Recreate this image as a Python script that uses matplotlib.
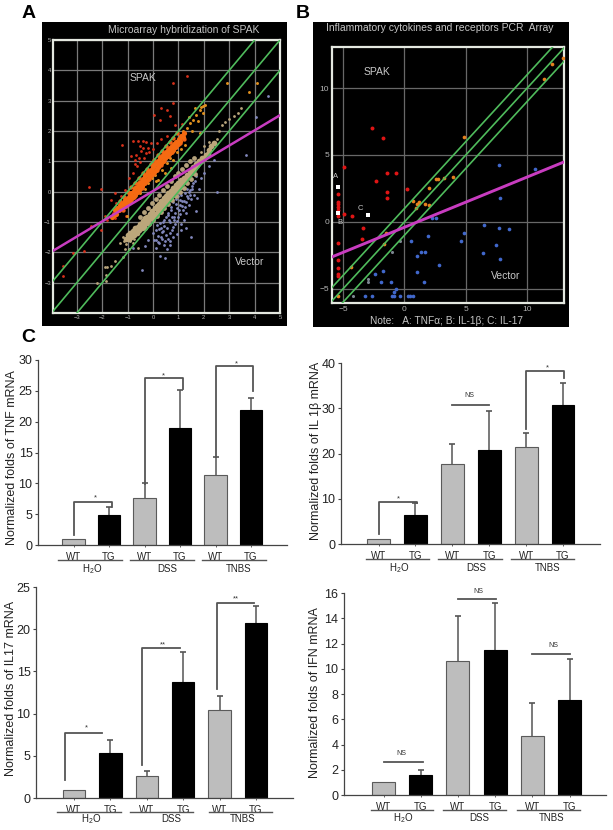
import matplotlib
matplotlib.use("Agg")
import matplotlib.pyplot as plt
from matplotlib.patches import Rectangle

plt.rcParams['font.family'] = ['Liberation Sans', 'DejaVu Sans']
plt.rcParams['mathtext.default'] = 'regular'

W, H = 613, 830

# ---------- Panel A data ----------
a_band_x = [-1.62,-1.55,-1.5,-1.45,-1.4,-1.35,-1.3,-1.25,-1.2,-1.15,-1.1,-1.05,-1.0,-0.95,-0.9,-0.88,-0.85,-0.8,-0.75,-0.72,-0.7,-0.65,-0.6,-0.57,-0.55,-0.5,-0.47,-0.42,-0.4,-0.35,-0.32,-0.28,-0.25,-0.2,-0.18,-0.12,-0.1,-0.05,-0.02,0.03,0.05,0.1,0.12,0.18,0.2,0.25,0.28,0.33,0.36,0.4,0.43,0.48,0.5,0.55,0.58,0.62,0.66,0.7,0.74,0.78,0.82,0.88,0.92,0.98,1.02,1.08,1.12,1.18,1.22]
a_band_y = [-0.82,-0.78,-0.62,-0.72,-0.55,-0.62,-0.45,-0.55,-0.38,-0.47,-0.28,-0.4,-0.2,-0.32,-0.12,-0.25,-0.05,-0.18,0.02,-0.12,0.12,-0.02,0.18,0.05,0.28,0.12,0.33,0.2,0.42,0.28,0.5,0.35,0.58,0.42,0.65,0.5,0.72,0.58,0.8,0.65,0.88,0.72,0.95,0.8,1.02,0.88,1.1,0.95,1.18,1.02,1.25,1.1,1.32,1.18,1.38,1.25,1.45,1.32,1.52,1.38,1.58,1.48,1.65,1.58,1.75,1.68,1.85,1.8,1.95]
a_band_edge_x = [-1.3,-1.15,-1.0,-0.85,-0.7,-0.55,-0.4,-0.25,-0.1,0.05,0.2,0.35,0.5,0.65,0.8,0.95,-1.2,-1.05,-0.9,-0.75,-0.6,-0.45,-0.3,-0.15,0.0,0.15,0.3,0.45,0.6,0.75,0.9,1.05,1.2]
a_band_edge_y = [-0.32,-0.16,0.0,0.14,0.3,0.45,0.6,0.75,0.9,1.05,1.2,1.35,1.5,1.65,1.78,1.92,-0.62,-0.46,-0.32,-0.16,-0.02,0.13,0.28,0.42,0.58,0.72,0.88,1.02,1.18,1.32,1.47,1.6,1.72]
a_red_x = [1.34,0.78,0.79,0.3,0.53,0.04,0.66,0.26,0.86,1.14,-1.21,-0.79,-0.59,-0.39,-0.26,-0.53,-0.86,-0.66,-0.72,-0.39,-0.2,-0.46,-0.26,-2.54,-2.04,-1.51,-1.25,-1.64,-1.12,-1.45,-3.16,-2.7,-3.55,-3.55,-2.43,-2.1,-2.04,-1.91,-1.82,-1.58,-1.51,-1.05,-0.95,-0.8,-0.62,-0.5,-0.35,-0.15,0.0,0.15,0.3,0.55,-0.7,-0.55,-0.1]
a_red_y = [3.82,3.58,2.92,2.76,2.7,2.54,2.48,2.37,2.2,2.24,1.55,1.66,1.66,1.68,1.64,1.49,1.16,1.22,1.05,1.44,1.44,1.33,1.27,0.14,0.09,-0.04,-0.15,-0.26,0.07,-0.37,-2.02,-1.97,-2.46,-2.77,-1.14,-1.03,-1.25,-0.81,-0.92,-0.7,-0.87,-0.81,0.45,0.62,0.85,0.98,1.12,1.3,1.42,1.6,1.75,1.85,0.9,1.1,1.6]
a_amber_x = [1.97,1.84,1.71,1.97,1.58,1.45,1.78,1.55,1.84,1.32,1.18,1.05,0.86,0.66,0.72,0.46,0.2,-0.2,0.07,-0.53,-0.86,-1.01,2.93,3.79,4.08,1.25,1.1,0.95,0.8,0.55,0.35,0.1,-0.05,-0.3,-0.45,-0.7,1.4,1.65,1.9,2.05]
a_amber_y = [2.84,2.7,2.54,2.59,2.37,2.26,2.32,1.99,1.93,2.1,1.99,1.71,1.49,1.11,0.78,0.62,0.4,0.29,0.56,-0.04,-0.26,-0.81,3.58,3.27,3.58,1.55,1.4,1.3,1.05,0.95,0.7,0.35,0.45,0.1,0.15,-0.15,2.45,2.75,2.78,2.85]
a_tan_band_x = [-1.08,-1.0,-0.95,-0.9,-0.85,-0.8,-0.75,-0.7,-0.65,-0.6,-0.55,-0.5,-0.45,-0.4,-0.35,-0.32,-0.27,-0.22,-0.18,-0.12,-0.08,-0.03,0.02,0.06,0.1,0.15,0.2,0.24,0.28,0.33,0.38,0.42,0.47,0.5,0.55,0.6,0.65,0.7,0.75,0.8,0.85,0.9,0.95,1.0,1.05,1.1,1.15,1.2,1.27,1.32,1.38,1.44,1.5,1.56,1.62,1.68,1.75,1.8,1.88,1.94,2.0,2.08,2.15,2.22,2.3,2.4]
a_tan_band_y = [-1.55,-1.42,-1.55,-1.35,-1.48,-1.3,-1.42,-1.2,-1.35,-1.15,-1.28,-1.05,-1.2,-0.98,-1.12,-0.88,-1.02,-0.82,-0.95,-0.72,-0.88,-0.65,-0.8,-0.55,-0.72,-0.48,-0.62,-0.4,-0.55,-0.3,-0.45,-0.22,-0.36,-0.14,-0.28,-0.06,-0.2,0.03,-0.12,0.12,-0.02,0.22,0.08,0.3,0.17,0.38,0.28,0.46,0.38,0.56,0.5,0.68,0.62,0.8,0.75,0.92,0.88,1.02,1.0,1.12,1.1,1.22,1.25,1.38,1.5,1.62]
a_tan_edge_x = [-0.5,-0.35,-0.2,-0.05,0.1,0.25,0.4,0.55,0.7,0.85,1.0,1.15,1.3,1.45,1.6,-0.3,-0.15,0.0,0.15,0.3,0.45,0.6,0.75,0.9,1.05,1.2,1.35,1.5,1.65]
a_tan_edge_y = [-0.85,-0.68,-0.55,-0.38,-0.25,-0.1,0.05,0.2,0.35,0.5,0.62,0.75,0.88,1.0,1.12,-1.2,-1.08,-0.95,-0.8,-0.68,-0.55,-0.42,-0.28,-0.15,-0.02,0.12,0.28,0.42,0.58]
a_tan_x = [2.6,2.7,2.85,3.0,3.2,3.35,3.45,-1.2,-1.1,-1.3,-1.2,-1.5,-1.65,-1.8,-1.9,-1.85,-2.2,-1.85,-0.8,-0.6,-0.95,2.5,2.2,2.0,1.9,-1.05,-0.9,-0.75,-1.15]
a_tan_y = [2.0,2.2,2.3,2.4,2.5,2.6,2.75,-1.5,-1.9,-1.7,-2.15,-2.3,-2.45,-2.5,-2.47,-2.75,-3.0,-2.95,-1.7,-1.85,-1.9,1.75,1.65,1.5,1.3,-1.72,-1.62,-1.55,-1.62]
a_blue_x = [0.0,0.05,0.1,0.1,0.15,0.18,0.2,0.25,0.3,0.32,0.38,0.4,0.42,0.26,0.49,-0.42,0.5,0.55,0.58,0.6,0.65,0.68,0.7,0.75,0.78,0.8,0.85,0.88,0.9,0.95,0.98,1.0,1.05,1.08,1.1,1.15,1.18,1.2,1.25,1.28,1.3,1.35,1.4,1.45,1.5,1.55,1.6,1.65,1.71,1.8,1.9,2.0,2.2,2.4,2.5,3.66,4.54,4.05,-0.8,-0.3,-0.2,0.65,0.95,1.3,1.5,0.8,1.1,0.55,0.35,0.45,0.52,0.62,0.72,0.82,0.92,1.02,1.12,1.22,1.32,1.42,1.52,0.22,0.34,0.44,0.74,0.84,0.96,1.06,1.16,1.26,1.36,1.46,0.12,0.28,0.48,0.58,0.68,1.58,1.68,1.75]
a_blue_y = [-1.35,-1.6,-1.25,-1.85,-1.1,-1.45,-1.65,-1.7,-1.2,-1.5,-1.0,-1.3,-1.75,-2.13,-2.2,-2.59,-0.85,-1.2,-1.55,-0.7,-1.0,-1.35,-0.5,-0.85,-1.15,-0.35,-0.7,-1.05,-0.25,-0.55,-0.85,-0.15,-0.45,-0.75,-1.25,-0.3,-0.6,-0.95,-0.05,-0.35,-0.7,-0.15,-0.45,0.05,-0.25,0.2,-0.1,0.35,-0.65,0.1,0.45,0.6,0.85,1.05,-0.02,1.2,3.14,2.45,-1.85,-1.8,-1.6,-1.75,-1.4,-1.2,-1.49,-1.5,-1.05,-1.9,-1.55,-1.12,-1.42,-0.92,-0.62,-0.95,-0.42,-0.62,-0.12,-0.32,0.1,-0.02,0.08,-1.22,-1.32,-0.92,-1.28,-0.82,-0.98,-0.28,-0.48,-0.52,-0.22,-0.12,-1.58,-1.02,-1.62,-0.78,-1.62,0.28,0.52,-0.22]
a_green_x = [-5, 6]
a_green_upper_y = [-4, 7]
a_green_mid_y = [-5, 6]
a_green_lower_y = [-6, 5]
a_magenta_x = [-3.94, 5]
a_magenta_y = [-1.95, 2.52]

# ---------- Panel B data ----------
b_red_x = [-2.62,-1.72,-4.9,-1.44,-0.71,-2.34,-1.44,-1.44,0.22,-5.4,-5.4,-5.4,-5.4,-5.4,-5.4,-4.93,-4.3,-3.38,-3.49,-5.4,-5.4,-5.4,-5.4,-5.4]
b_red_y = [6.98,6.26,4.09,3.67,3.67,3.04,2.24,1.77,2.44,2.09,1.52,1.32,1.12,0.92,0.42,0.57,0.45,-0.45,-1.3,-1.55,-2.82,-3.42,-3.92,-4.06]
b_white_x = [-5.42,-5.42,-2.94]
b_white_y = [2.64,0.7,0.5]
b_orange_x = [4.82,2.56,2.72,3.19,3.95,1.99,0.68,1.0,1.2,1.09,0.93,1.69,2.0,-1.5,-1.66,-4.36,-5.4,12.04,11.36,12.9]
b_orange_y = [6.38,3.19,3.19,3.29,3.37,2.54,1.55,1.37,1.5,1.32,1.07,1.37,1.25,-0.82,-1.62,-3.37,-5.5,11.77,10.67,12.27]
b_blue_x = [7.68,10.65,7.77,2.26,2.59,6.49,7.68,8.56,4.82,1.91,0.54,4.58,7.47,1.39,1.69,1.01,6.38,7.79,2.81,1.01,1.61,-1.77,-2.37,-1.91,-1.12,-0.68,-0.84,-3.22,-2.62,-1.04,-0.87,-0.38,0.27,0.44,0.68]
b_blue_y = [4.26,3.97,1.77,0.27,0.27,-0.22,-0.45,-0.52,-0.82,-1.05,-1.42,-1.42,-1.72,-2.22,-2.22,-2.52,-2.34,-2.74,-3.24,-3.72,-4.51,-3.64,-3.92,-4.51,-4.51,-5.04,-5.24,-5.51,-5.51,-5.51,-5.51,-5.51,-5.51,-5.51,-5.51]
b_gray_x = [-2.94,-2.94,-4.17,-1.04,-0.35]
b_gray_y = [-4.24,-4.49,-5.51,-2.24,-1.42]
b_green_x = [-8, 15]
b_green_upper_y = [-7, 16]
b_green_mid_y = [-8, 15]
b_green_lower_y = [-9, 14]
b_magenta_x = [-5.94, 13]
b_magenta_y = [-2.63, 4.48]

# ---------- Panel C data ----------
bar_labels = ['WT', 'TG', 'WT', 'TG', 'WT', 'TG']
group_labels = ['H$_2$O', 'DSS', 'TNBS']

tnf_vals = [1, 4.9, 7.7, 18.9, 11.3, 21.9]
tnf_tops = [1, 6.2, 10, 25.2, 14.2, 23.9]
il1_vals = [1, 6.4, 17.6, 20.8, 21.4, 30.8]
il1_tops = [1, 9, 22.2, 29.3, 24.6, 35.5]
il17_vals = [1, 5.3, 2.6, 13.7, 10.4, 20.7]
il17_tops = [1, 6.9, 3.2, 17.3, 12.1, 22.8]
ifn_vals = [1, 1.55, 10.6, 11.5, 4.65, 7.55]
ifn_tops = [1, 2, 14.2, 15.2, 7.3, 10.75]

fig = plt.figure(figsize=(W / 100, H / 100), dpi=100, facecolor='white')


def px_axes(l, t, r, b, **kw):
    return fig.add_axes([l / W, 1 - b / H, (r - l) / W, (b - t) / H], **kw)


def ftext(x, y, s, **kw):
    kw.setdefault('ha', 'center')
    kw.setdefault('va', 'center')
    return fig.text(x / W, 1 - y / H, s, **kw)


def black_box(l, t, r, b):
    fig.add_artist(Rectangle((l / W, 1 - b / H), (r - l) / W, (b - t) / H,
                             transform=fig.transFigure, facecolor='black',
                             edgecolor='none', zorder=-5))


def scatter_frame(rect, xlim, ylim, xt, yt, tsize, pad, gridc):
    ax = px_axes(*rect)
    ax.set_facecolor('black')
    ax.set_xlim(*xlim)
    ax.set_ylim(*ylim)
    ax.set_xticks(xt)
    ax.set_yticks(yt)
    ax.grid(True, color=gridc, lw=0.9)
    ax.set_axisbelow(True)
    ax.tick_params(length=0, labelsize=tsize, colors='#b5b5b5', pad=pad)
    for s in ax.spines.values():
        s.set_color('#e4e8e0')
        s.set_linewidth(1.6)
    return ax


GREEN = '#4fbb5c'
MAGENTA = '#c83cc0'

# ---- Panel A ----
black_box(42, 22, 287, 326)
axA = scatter_frame((53, 40, 280, 313), (-3.94, 5), (-4, 5),
                    [-3, -2, -1, 0, 1, 2, 3, 4, 5], [-3, -2, -1, 0, 1, 2, 3, 4, 5], 4.2, 1.5, '#7a7a7a')
axA.scatter(a_blue_x, a_blue_y, s=4, color='#8288bd', lw=0, zorder=2)
axA.scatter(a_tan_x, a_tan_y, s=4, color='#b9a57c', lw=0, zorder=2)
axA.scatter(a_tan_edge_x, a_tan_edge_y, s=12, color='#b5a27c', lw=0, zorder=3)
axA.scatter(a_tan_band_x, a_tan_band_y, s=17, color='#bca77b', lw=0, zorder=3)
axA.scatter(a_red_x, a_red_y, s=4, color='#d8301a', lw=0, zorder=2)
axA.scatter(a_amber_x, a_amber_y, s=4.5, color='#e0901e', lw=0, zorder=3)
axA.scatter(a_band_edge_x, a_band_edge_y, s=10, color='#f0601a', lw=0, zorder=3)
axA.scatter(a_band_x, a_band_y, s=14, color='#f56a12', lw=0, zorder=3)
for yy in (a_green_upper_y, a_green_mid_y, a_green_lower_y):
    axA.plot(a_green_x, yy, color=GREEN, lw=1.2, zorder=4)
axA.plot(a_magenta_x, a_magenta_y, color=MAGENTA, lw=1.8, zorder=5)
ftext(184, 30, 'Microarray hybridization of SPAK', color='#c4c4c4', fontsize=7.5)
ftext(143, 78, 'SPAK', color='#c8c8c8', fontsize=7.5)
ftext(250, 262, 'Vector', color='#c8c8c8', fontsize=7.5)

# ---- Panel B ----
black_box(313, 22, 569, 327)
axB = scatter_frame((332, 47, 564, 303), (-5.9, 13), (-6.06, 13.07),
                    [-5, 0, 5, 10], [-5, 0, 5, 10], 6, 2, '#686868')
axB.scatter(b_gray_x, b_gray_y, s=5, color='#7c8590', lw=0, zorder=3)
axB.scatter(b_blue_x, b_blue_y, s=7, color='#4168cc', lw=0, zorder=3)
axB.scatter(b_red_x, b_red_y, s=8, color='#e01515', lw=0, zorder=3)
axB.scatter(b_orange_x, b_orange_y, s=7, color='#e6801e', lw=0, zorder=3)
axB.scatter(b_white_x, b_white_y, s=9, marker='s', color='white', lw=0, zorder=6)
for yy in (b_green_upper_y, b_green_mid_y, b_green_lower_y):
    axB.plot(b_green_x, yy, color=GREEN, lw=1.2, zorder=4)
axB.plot(b_magenta_x, b_magenta_y, color=MAGENTA, lw=2.1, zorder=5)
ftext(440, 28, 'Inflammatory cytokines and receptors PCR  Array', color='#c4c4c4', fontsize=7.5)
ftext(377, 72, 'SPAK', color='#c8c8c8', fontsize=7.5)
ftext(506, 276, 'Vector', color='#c8c8c8', fontsize=7.5)
ftext(446, 321, 'Note:   A: TNF\u03b1; B: IL-1\u03b2; C: IL-17', color='#c4c4c4', fontsize=7.3)
ftext(336, 177, 'A', color='#c8c8c8', fontsize=5.5)
ftext(340, 222, 'B', color='#c8c8c8', fontsize=5.5)
ftext(360, 208, 'C', color='#c8c8c8', fontsize=5.5)

# ---- Panel letters ----
ftext(29, 13, 'A', fontsize=14, fontweight='bold')
ftext(303, 13, 'B', fontsize=14, fontweight='bold')
ftext(28, 337, 'C', fontsize=14, fontweight='bold')


def bar_panel(rect, c0, sp, ymax, yticks, vals, tops, ylabel, ylab_xy,
              groups, group_text_x, line_dy, text_dy, brackets, ns_lines, stars):
    l, t, r, b = rect
    ax = px_axes(l, t, r, b)
    ax.patch.set_alpha(0)
    ax.set_xlim((l - c0) / sp, (r - c0) / sp)
    ax.set_ylim(0, ymax)
    xs = list(range(6))
    cols = ['#bdbdbd', 'black'] * 3
    edges = ['#5a5a5a', 'black'] * 3
    for i in xs:
        if tops[i] > vals[i]:
            eb = ax.errorbar(i, vals[i], yerr=[[0], [tops[i] - vals[i]]], color='#555555',
                             lw=1.1, capsize=2.2, capthick=1.2, zorder=1)
            eb.lines[1][0].set_visible(False)
    ax.bar(xs, vals, width=0.62, color=cols, edgecolor=edges, linewidth=0.8, zorder=2)
    ax.set_xticks(xs)
    ax.set_xticklabels(bar_labels, fontsize=7, color='#222222')
    ax.set_yticks(yticks)
    ax.tick_params(axis='y', labelsize=9, length=2.5, width=0.8, color='#444444',
                   labelcolor='#222222', pad=1.5)
    ax.tick_params(axis='x', length=1.5, width=0.6, color='#444444', pad=3.2)
    for s in ('top', 'right'):
        ax.spines[s].set_visible(False)
    for s in ('left', 'bottom'):
        ax.spines[s].set_color('#444444')
        ax.spines[s].set_linewidth(0.9)
    h = b - t
    tr = ax.get_xaxis_transform()
    for (x0, x1), tx, lab in zip(groups, group_text_x, group_labels):
        ax.plot([x0, x1], [-line_dy / h] * 2, transform=tr, color='#555555', lw=1.0,
                clip_on=False)
        ax.text(tx, -text_dy / h, lab, transform=tr, ha='center', va='center',
                fontsize=7, color='#222222', clip_on=False)
    for x0, x1, top, yl, yr in brackets:
        ax.plot([x0, x0, x1] + ([x1] if yr is not None else []),
                [yl, top, top] + ([yr] if yr is not None else []),
                color='#555555', lw=1.3, clip_on=False, zorder=3)
    for x0, x1, y in ns_lines:
        ax.plot([x0, x1], [y, y], color='#555555', lw=1.3, clip_on=False, zorder=3)
    for x, y, s in stars:
        ax.text(x, y, s, ha='center', va='center', clip_on=False, color='#333333',
                fontsize=5 if s == 'NS' else 5.5)
    ftext(ylab_xy[0], ylab_xy[1], ylabel, rotation=90, fontsize=9, color='#222222')
    return ax


bar_panel((38, 360, 287, 545), 73.5, 35.5, 30, [0, 5, 10, 15, 20, 25, 30], tnf_vals, tnf_tops,
          'Normalized folds of TNF mRNA', (12, 458),
          [(-0.45, 1.36), (1.59, 3.4), (3.63, 5.41)], [0.52, 2.63, 4.66], 15, 24,
          [(0, 1.08, 6.9, 1.7, 6.2), (2, 3.08, 27, 9.9, 25.3), (4, 5.07, 29, 14.2, 24.9)], [],
          [(0.61, 7.6, '*'), (2.53, 27.4, '*'), (4.6, 29.4, '*')])

bar_panel((341, 363, 600, 544), 378.5, 36.9, 40, [0, 10, 20, 30, 40], il1_vals, il1_tops,
          'Normalized folds of IL 1\u03b2 mRNA', (316, 451),
          [(-0.34, 1.38), (1.62, 3.34), (3.58, 5.3)], [0.56, 2.66, 4.58], 15, 24,
          [(0, 1.05, 9.3, 2.1, 9), (4, 5.03, 38.2, 25.5, 36.7)], [(2, 3, 30.8)],
          [(0.53, 10, '*'), (2.47, 32.8, 'NS'), (4.57, 39, '*')])

bar_panel((36, 587, 293, 798), 74, 36.4, 25, [0, 5, 10, 15, 20, 25], il17_vals, il17_tops,
          'Normalized folds of IL17 mRNA', (11, 688),
          [(-0.46, 1.28), (1.54, 3.28), (3.71, 5.43)], [0.46, 2.68, 4.63], 14, 21,
          [(-0.25, 0.78, 7.75, 2.1, None), (1.88, 2.9, 17.8, 3.9, None), (3.94, 4.95, 23.1, 12.9, None)], [],
          [(0.35, 8.3, '*'), (2.43, 18.2, '**'), (4.45, 23.6, '**')])

bar_panel((344, 593, 606, 795), 383.5, 37.2, 16, [0, 2, 4, 6, 8, 10, 12, 14, 16], ifn_vals, ifn_tops,
          'Normalized folds of IFN mRNA', (315, 693),
          [(-0.34, 1.34), (1.59, 3.29), (3.58, 5.29)], [0.54, 2.58, 4.51], 15, 23,
          [], [(0, 1.05, 2.62), (2.01, 3.03, 15.55), (4, 5.02, 11.2)],
          [(0.47, 3.25, 'NS'), (2.54, 16.1, 'NS'), (4.57, 11.85, 'NS')])

fig.savefig('out.png', dpi=100)
